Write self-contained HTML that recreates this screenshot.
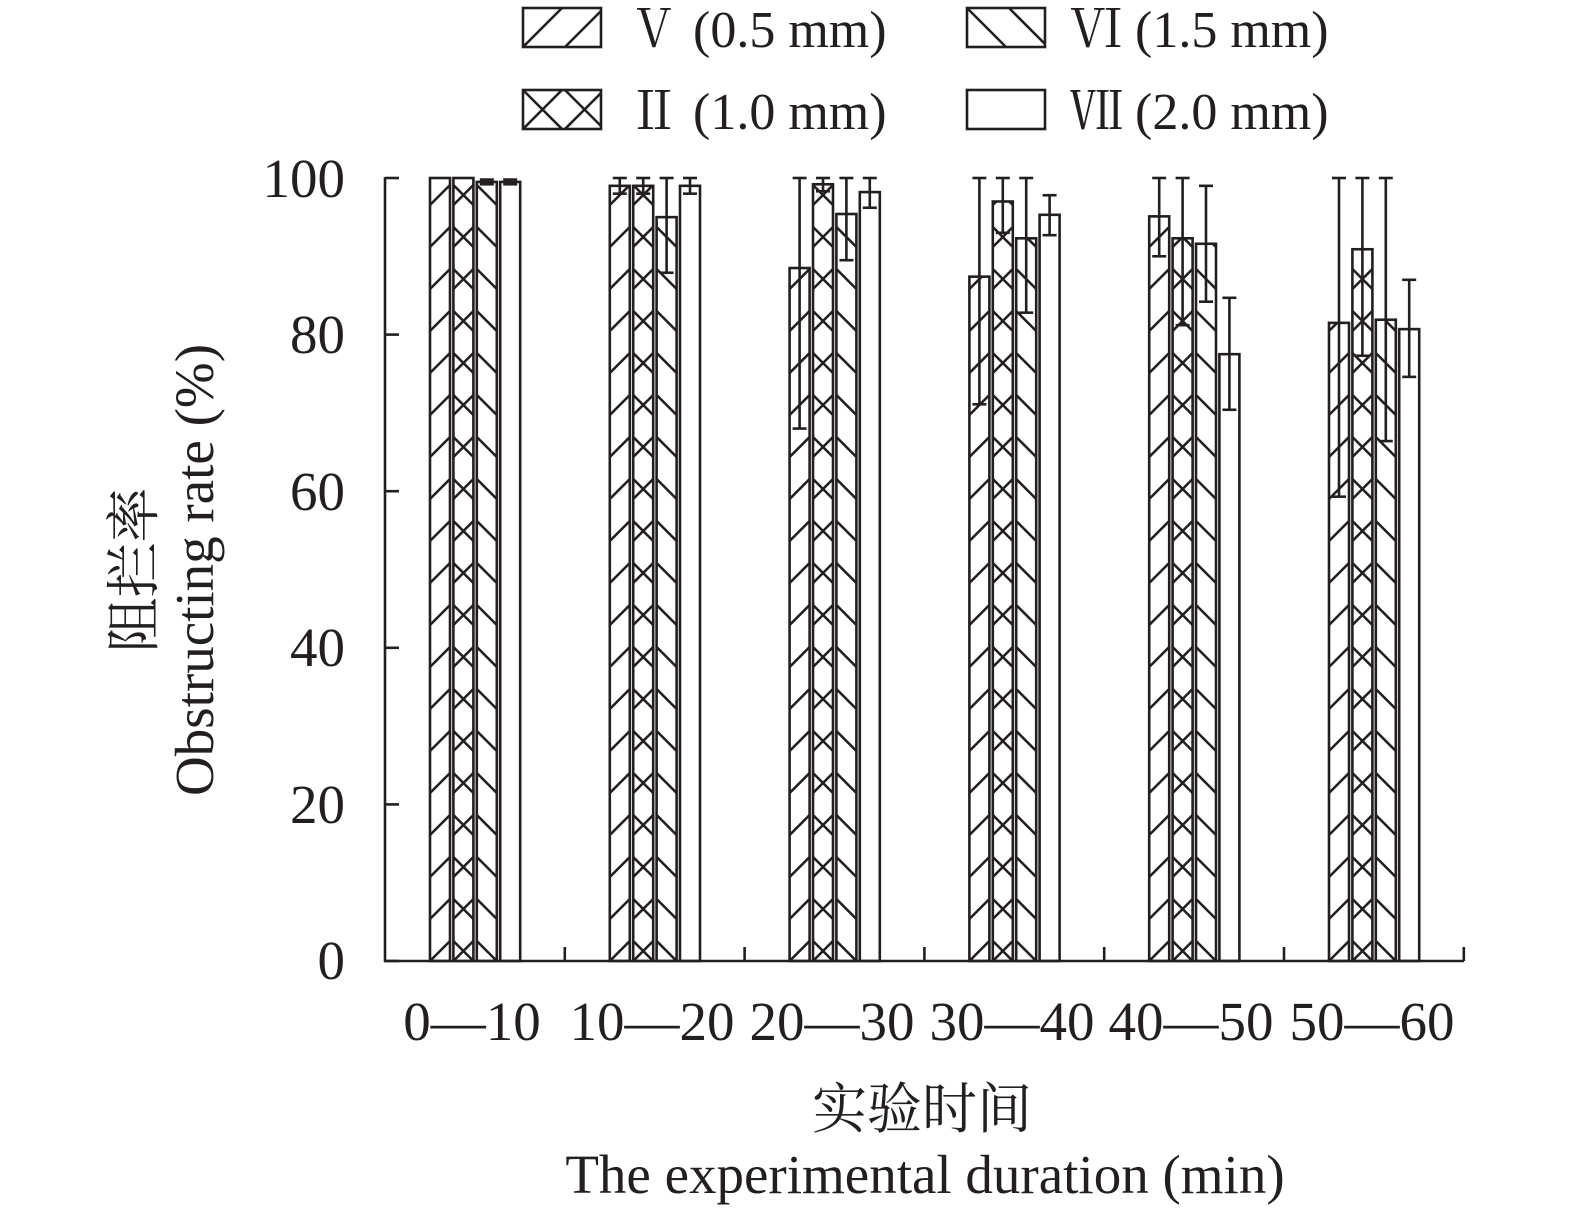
<!DOCTYPE html>
<html><head><meta charset="utf-8">
<style>
html,body{margin:0;padding:0;background:#fff;}
svg{display:block;}
text{font-family:"Liberation Serif","Noto Serif CJK SC",serif;fill:#231f20;}
</style></head>
<body>
<svg id="s" width="1575" height="1215" viewBox="0 0 1575 1215" xmlns="http://www.w3.org/2000/svg">
<g id="g" stroke="#231f20" fill="none" stroke-width="2.6"></g>
<g font-size="55">
<text x="345" y="197" text-anchor="end">100</text>
<text x="345" y="353" text-anchor="end">80</text>
<text x="345" y="510" text-anchor="end">60</text>
<text x="345" y="666" text-anchor="end">40</text>
<text x="345" y="823" text-anchor="end">20</text>
<text x="345" y="979" text-anchor="end">0</text>
<text x="472" y="1040" text-anchor="middle">0—10</text>
<text x="652" y="1040" text-anchor="middle">10—20</text>
<text x="832" y="1040" text-anchor="middle">20—30</text>
<text x="1012" y="1040" text-anchor="middle">30—40</text>
<text x="1191" y="1040" text-anchor="middle">40—50</text>
<text x="1372" y="1040" text-anchor="middle">50—60</text>
<text x="922" y="1128" text-anchor="middle">实验时间</text>
<text x="925" y="1193" text-anchor="middle">The experimental duration (min)</text>
<text transform="translate(153,570) rotate(-90)" text-anchor="middle">阻拦率</text>
<text transform="translate(213,570) rotate(-90)" text-anchor="middle">Obstructing rate (%)</text>
</g>
<g font-size="52">
<text x="628" y="47">Ⅴ (0.5 mm)</text>
<text x="628" y="129">Ⅱ (1.0 mm)</text>
<text x="1070" y="47">Ⅵ (1.5 mm)</text>
<text x="1070" y="129">Ⅶ (2.0 mm)</text>
</g>
</svg>
<script>
(function(){
var g=document.getElementById('g');var h='';
function L(a,b,c,d){h+='<line x1="'+a+'" y1="'+b+'" x2="'+c+'" y2="'+d+'"/>';}
var Y0=961,K=7.83;function yv(v){return Y0-v*K;}
function seg(x1,y1,x2,y2,tp,bt){
 var dx=x2-x1,dy=y2-y1;var tA=(tp-y1)/dy,tB=(bt-y1)/dy;
 var lo=Math.max(0,Math.min(tA,tB)),hi=Math.min(1,Math.max(tA,tB));
 if(hi<=lo)return;
 L(x1+dx*lo,y1+dy*lo,x1+dx*hi,y1+dy*hi);
}
function hatch(x,w,tp,bt,type){
 var P=42;
 for(var k=-2;k<Math.ceil((bt-tp)/P)+3;k++){
  var b0=bt-k*P;
  if(type==1||type==2){seg(x,b0,x+w,b0-w,tp,bt);}
  if(type==3||type==2){seg(x,b0-w,x+w,b0,tp,bt);}
 }
}
var data=[
[[100],[100],[99.5,99.8,99.2],[99.5,99.8,99.2]],
[[99,100,98],[99,100,98],[95,100,87.9],[99,100,98]],
[[88.5,100,68],[99.2,100,98.3],[95.4,100,89.5],[98.2,100,96.2]],
[[87.4,100,71.1],[97,100,93],[92.3,100,82.8],[95.3,97.8,92.7]],
[[95.1,100,90],[92.3,100,81.2],[91.6,99,84.2],[77.5,84.7,70.4]],
[[81.5,100,59.3],[90.9,100,77.3],[81.9,100,66.4],[80.7,87,74.6]]];
var types=[1,2,3,0];
for(var gi=0;gi<6;gi++){for(var b=0;b<4;b++){
 var d=data[gi][b];var x=385+gi*179.8+45+b*23.4,w=20;var tp=yv(d[0]);
 hatch(x,w,tp,Y0,types[b]);
 h+='<rect x="'+x+'" y="'+tp+'" width="'+w+'" height="'+(Y0-tp)+'"/>';
 if(d.length>1){var cx=x+w/2;L(cx,yv(d[1]),cx,yv(d[2]));L(cx-7,yv(d[1]),cx+7,yv(d[1]));L(cx-7,yv(d[2]),cx+7,yv(d[2]));}
}}
L(385,177,385,962);L(384,961,1464,961);
for(var i=0;i<=5;i++){var yy=yv(i*20);L(385,yy,399,yy);}
for(var i=1;i<=6;i++){var xx=385+i*179.8;L(xx,961,xx,947);}
function segx(x1,y1,x2,y2,l,r){var dx=x2-x1,dy=y2-y1;var tA=(l-x1)/dx,tB=(r-x1)/dx;
 var lo=Math.max(0,Math.min(tA,tB)),hi=Math.min(1,Math.max(tA,tB));if(hi<=lo)return;
 L(x1+dx*lo,y1+dy*lo,x1+dx*hi,y1+dy*hi);}
function leg(x,yt,type){
 var P=42;
 for(var k=-3;k<5;k++){var x0=x+k*P;
  if(type==1||type==2)segx(x0,yt+39,x0+39,yt,x,x+78);
  if(type==3||type==2)segx(x0,yt,x0+39,yt+39,x,x+78);}
 h+='<rect x="'+x+'" y="'+yt+'" width="78" height="39"/>';}
leg(523,8,1);leg(523,90,2);leg(967,8,3);leg(967,90,0);
g.innerHTML=h;
})();
</script>
</body></html>
